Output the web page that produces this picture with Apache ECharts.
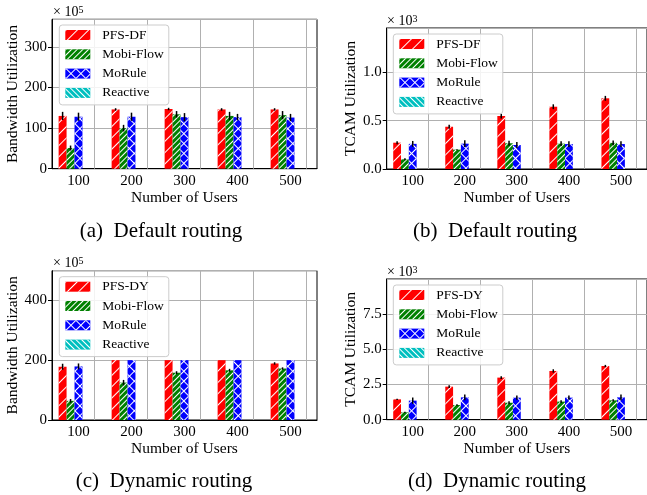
<!DOCTYPE html>
<html>
<head>
<meta charset="utf-8">
<script src="https://cdn.jsdelivr.net/npm/echarts@6/dist/echarts.min.js"></script>
<style>html,body{margin:0;padding:0;background:#fff}#c{width:647px;height:495px}</style>
</head>
<body>
<div id="c"></div>
<script>
// ---------------- data ----------------
const categories = ['100', '200', '300', '400', '500'];

// (a) Default routing - bandwidth (x10^5)
const aNames = ['PFS-DF', 'Mobi-Flow', 'MoRule', 'Reactive'];
const aPFS = [130, 146, 147, 146, 146];
const aPFSErr = [10, 3, 3, 3, 3];
const aMobi = [51, 100, 134, 130, 132];
const aMobiErr = [6, 8, 8, 10, 10];
const aMoRule = [128, 128, 127, 127, 126];
const aMoRuleErr = [10, 10, 10, 8, 9];
const aReactive = [0, 0, 0, 0, 0];

// (b) Default routing - TCAM (x10^3)
const bPFS = [0.272, 0.437, 0.548, 0.644, 0.731];
const bPFSErr = [0.015, 0.02, 0.025, 0.025, 0.025];
const bMobi = [0.10, 0.20, 0.266, 0.262, 0.27];
const bMobiErr = [0.01, 0.005, 0.025, 0.025, 0.025];
const bMoRule = [0.26, 0.262, 0.248, 0.258, 0.258];
const bMoRuleErr = [0.03, 0.035, 0.03, 0.03, 0.03];
const bReactive = [0, 0, 0, 0, 0];

// (c) Dynamic routing - bandwidth (x10^5)
const cNames = ['PFS-DY', 'Mobi-Flow', 'MoRule', 'Reactive'];
const cPFS = [178, 200, 200, 200, 189];
const cPFSErr = [10, 0, 0, 0, 4];
const cMobi = [64, 125, 158, 166, 172];
const cMobiErr = [6, 9, 5, 5, 4];
const cMoRule = [179, 200, 200, 200, 200];
const cMoRuleErr = [10, 0, 0, 0, 0];
const cReactive = [0, 0, 0, 0, 0];

// (d) Dynamic routing - TCAM (x10^3)
const dPFS = [1.44, 2.34, 2.98, 3.45, 3.80];
const dPFSErr = [0.05, 0.1, 0.1, 0.12, 0.08];
const dMobi = [0.52, 1.04, 1.2, 1.28, 1.37];
const dMobiErr = [0.05, 0.05, 0.1, 0.1, 0.08];
const dMoRule = [1.35, 1.58, 1.56, 1.56, 1.58];
const dMoRuleErr = [0.22, 0.2, 0.15, 0.15, 0.2];
const dReactive = [0, 0, 0, 0, 0];

const yLabelsA = { max: 368, interval: 100, dec: 0 };
const yLabelsB = { max: 1.458, interval: 0.5, dec: 1 };
const yLabelsC = { max: 499, interval: 200, dec: 0 };
const yLabelsD = { max: 9.96, interval: 2.5, dec: 1 };

// ---------------- style ----------------
const FONT = "'Liberation Serif', 'Times New Roman', serif";
const colors = ['#ff0000', '#008000', '#0000ff', '#00bfbf'];
const decals = [
  { symbol: 'rect', symbolSize: 1, dashArrayX: [1, 0], dashArrayY: [1, 7], rotation: -Math.PI / 4, color: '#ffffff' },
  { symbol: 'rect', symbolSize: 1, dashArrayX: [1, 0], dashArrayY: [1, 3], rotation: -Math.PI / 4, color: '#ffffff' },
  { symbol: 'rect', symbolSize: 1, dashArrayX: [[7, 0], [1, 6], [1, 6], [1, 6], [1, 6], [1, 6], [1, 6]], dashArrayY: [1, 0], rotation: Math.PI / 4, color: '#ffffff' },
  { symbol: 'rect', symbolSize: 1, dashArrayX: [1, 0], dashArrayY: [1, 3], rotation: Math.PI / 4, color: '#ffffff' }
];

const grids = [
  { left: 52, top: 19.3, width: 265, height: 149.4 },
  { left: 386.7, top: 28, width: 263.5, height: 141 },
  { left: 52, top: 270.7, width: 265, height: 149.3 },
  { left: 386.7, top: 279, width: 263.5, height: 140.7 }
];

const panels = [
  { names: aNames, vals: [aPFS, aMobi, aMoRule, aReactive], errs: [aPFSErr, aMobiErr, aMoRuleErr], y: yLabelsA, yname: 'Bandwidth Utilization', yGap: 30 },
  { names: aNames, vals: [bPFS, bMobi, bMoRule, bReactive], errs: [bPFSErr, bMobiErr, bMoRuleErr], y: yLabelsB, yname: 'TCAM Utilization', yGap: 26 },
  { names: cNames, vals: [cPFS, cMobi, cMoRule, cReactive], errs: [cPFSErr, cMobiErr, cMoRuleErr], y: yLabelsC, yname: 'Bandwidth Utilization', yGap: 30 },
  { names: cNames, vals: [dPFS, dMobi, dMoRule, dReactive], errs: [dPFSErr, dMobiErr, dMoRuleErr], y: yLabelsD, yname: 'TCAM Utilization', yGap: 26 }
];

const legendPos = [
  { left: 59.3, top: 25 },
  { left: 393.3, top: 34 },
  { left: 59.3, top: 276.7 },
  { left: 393.3, top: 285 }
];

const BAR_FRAC = 0.15;
const xAxes = [], yAxes = [], series = [], legends = [];

panels.forEach((p, gi) => {
  xAxes.push({
    type: 'category', gridIndex: gi, data: categories,
    name: 'Number of Users', nameLocation: 'middle', nameGap: 19.5,
    nameTextStyle: { fontFamily: FONT, fontSize: 15.5, color: '#000', verticalAlign: 'top' },
    axisLine: { lineStyle: { color: '#000', width: 1 } },
    axisTick: { alignWithLabel: true, length: 4, lineStyle: { color: '#000' } },
    axisLabel: { fontFamily: FONT, fontSize: 15, color: '#000', margin: 5 },
    splitLine: { show: false }
  });
  yAxes.push({
    type: 'value', gridIndex: gi, min: 0, max: p.y.max, interval: p.y.interval,
    name: p.yname, nameLocation: 'middle', nameGap: p.yGap, nameRotate: 90,
    nameTextStyle: { fontFamily: FONT, fontSize: 15.5, color: '#000' },
    axisLine: { show: true, lineStyle: { color: '#000', width: 1 } },
    axisTick: { show: true, length: 4, lineStyle: { color: '#000' } },
    axisLabel: { fontFamily: FONT, fontSize: 15, color: '#000', margin: 5, showMaxLabel: false,
      formatter: v => v.toFixed(p.y.dec) },
    splitLine: { show: true, lineStyle: { color: '#b0b0b0', width: 1 } }
  });
  p.vals.forEach((vals, k) => {
    series.push({
      type: 'bar', name: p.names[k], xAxisIndex: gi, yAxisIndex: gi,
      data: vals, barWidth: (BAR_FRAC * 100) + '%', barGap: '0%', z: 2,
      itemStyle: { color: colors[k], decal: decals[k] }
    });
  });
  // spacer (5th slot in each group) + vertical grid lines at the category ticks
  series.push({
    type: 'bar', name: '', xAxisIndex: gi, yAxisIndex: gi,
    data: categories.map(() => 0), barWidth: (BAR_FRAC * 100) + '%', barGap: '0%', z: 1,
    itemStyle: { color: 'rgba(0,0,0,0)' },
    markLine: {
      silent: true, symbol: ['none', 'none'], label: { show: false }, animation: false,
      lineStyle: { color: '#b0b0b0', width: 1, type: 'solid' },
      emphasis: { disabled: true },
      data: categories.map(c => ({ xAxis: c }))
    }
  });
  // error bars
  p.errs.forEach((errs, k) => {
    const off = k - 2;
    series.push({
      type: 'custom', xAxisIndex: gi, yAxisIndex: gi, z: 3, silent: true,
      data: p.vals[k].map((v, i) => [i, v, errs[i]]),
      renderItem: (params, api) => {
        const e = api.value(2);
        if (!e) return null;
        const i = api.value(0), v = api.value(1);
        const band = api.size([1, 0])[0];
        const t = api.coord([i, v + e]);
        const b = api.coord([i, v - e]);
        const x = t[0] + off * band * BAR_FRAC;
        return { type: 'line', shape: { x1: x, y1: t[1], x2: x, y2: b[1] },
                 style: { stroke: '#000', lineWidth: 1.5 } };
      }
    });
  });
  legends.push({
    data: p.names, orient: 'vertical', left: legendPos[gi].left, top: legendPos[gi].top,
    icon: 'rect', itemWidth: 25, itemHeight: 10, itemGap: 5.3, selectedMode: false,
    padding: [3, 5, 5, 6],
    backgroundColor: 'rgba(255,255,255,0.85)', borderColor: '#cccccc', borderWidth: 1, borderRadius: 3,
    textStyle: { fontFamily: FONT, fontSize: 13.5, color: '#000', lineHeight: 14, padding: [0, 0, 0, 7] },
    z: 10
  });
});

const sci = [
  { left: 53, top: 5, t: '5' },
  { left: 387, top: 14.5, t: '3' },
  { left: 53, top: 256.5, t: '5' },
  { left: 387, top: 265, t: '3' }
];
const captions = [
  { x: 161, y: 231, t: '(a)  Default routing' },
  { x: 495, y: 231, t: '(b)  Default routing' },
  { x: 164, y: 481, t: '(c)  Dynamic routing' },
  { x: 497, y: 481, t: '(d)  Dynamic routing' }
];
const graphics = [];
sci.forEach(s => graphics.push({
  type: 'text', left: s.left, top: s.top, z: 20,
  style: { text: '{a|× 10}{b|' + s.t + '}', rich: {
    a: { fontFamily: FONT, fontSize: 14, fill: '#000' },
    b: { fontFamily: FONT, fontSize: 10, fill: '#000', verticalAlign: 'top' } } }
}));
captions.forEach(c => graphics.push({
  type: 'text', x: c.x, y: c.y, z: 20,
  style: { text: c.t, fontFamily: FONT, fontSize: 21, fill: '#000', align: 'center', verticalAlign: 'middle' }
}));

const chart = echarts.init(document.getElementById('c'), null, { renderer: 'canvas' });
chart.setOption({
  animation: false,
  backgroundColor: '#ffffff',
  grid: grids.map(g => Object.assign({ show: true, borderColor: '#000', borderWidth: 1, backgroundColor: 'transparent', containLabel: false }, g)),
  xAxis: xAxes,
  yAxis: yAxes,
  legend: legends,
  series: series,
  graphic: graphics
});
</script>
</body>
</html>
